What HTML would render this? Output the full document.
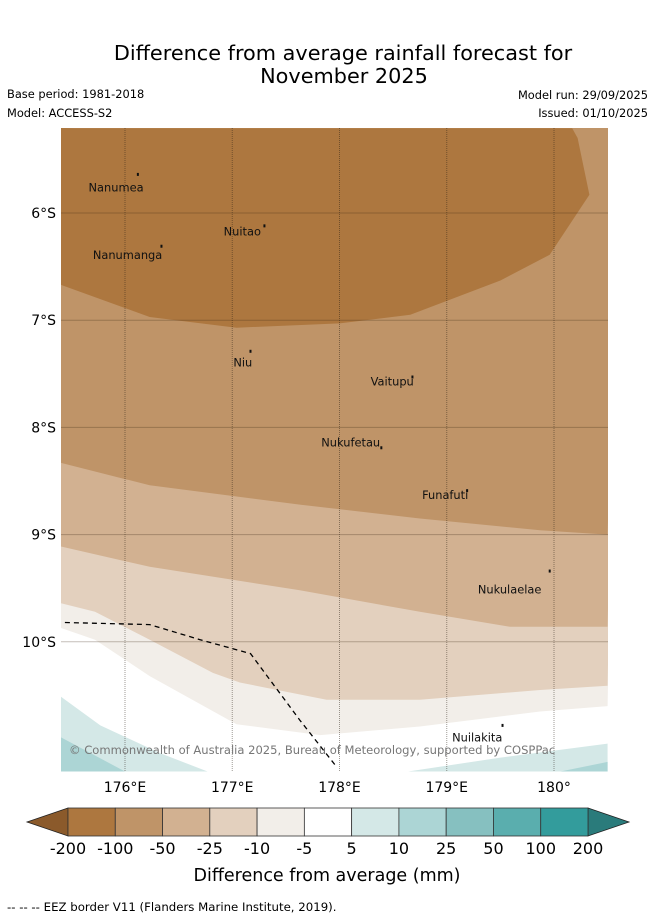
<!DOCTYPE html>
<html><head><meta charset="utf-8"><style>
html,body{margin:0;padding:0;background:#fff;width:655px;height:919px;overflow:hidden}
svg text{font-family:"DejaVu Sans","Liberation Sans",sans-serif}
</style></head><body>
<svg id="chart" width="655" height="919" viewBox="0 0 655 919" xmlns="http://www.w3.org/2000/svg">
<text x="343" y="60" font-size="20.8" text-anchor="middle">Difference from average rainfall forecast for</text>
<text x="344" y="83" font-size="20.8" text-anchor="middle">November 2025</text>
<text x="7" y="98" font-size="11.4">Base period: 1981-2018</text>
<text x="7" y="117" font-size="11.4">Model: ACCESS-S2</text>
<text x="648" y="99" font-size="11.4" text-anchor="end">Model run: 29/09/2025</text>
<text x="648" y="117" font-size="11.4" text-anchor="end">Issued: 01/10/2025</text>
<defs><clipPath id="mapclip"><rect x="61" y="128" width="547" height="644"/></clipPath></defs>
<g id="map" clip-path="url(#mapclip)"></g>
<g id="overlay"></g>
<g id="colorbar"></g>
<text x="327" y="881" font-size="17.5" text-anchor="middle">Difference from average (mm)</text>
<text x="7" y="911" font-size="11.75">--  --  -- EEZ border V11 (Flanders Marine Institute, 2019).</text>
</svg>
<script>
// axis extents
const lonTicks = [176, 177, 178, 179, 180];
const lonTickLabels = ["176°E", "177°E", "178°E", "179°E", "180°"];
const latTicks = [6, 7, 8, 9, 10];
const latTickLabels = ["6°S", "7°S", "8°S", "9°S", "10°S"];
// contour boundaries (lon, lat °S)
const b1Lon = [175.40, 175.72, 176.23, 177.04, 177.82, 178.75, 179.87, 180.50];
const b1Lat = [9.87, 9.98, 10.32, 10.77, 10.87, 10.79, 10.65, 10.60];
const b2Lon = [175.40, 175.72, 176.23, 176.82, 177.07, 177.88, 178.75, 179.87, 180.50];
const b2Lat = [9.64, 9.72, 9.98, 10.29, 10.38, 10.54, 10.54, 10.45, 10.41];
const b3Lon = [175.40, 176.23, 177.63, 178.75, 179.59, 180.50];
const b3Lat = [9.11, 9.30, 9.52, 9.72, 9.86, 9.86];
const b4Lon = [175.40, 176.23, 177.63, 178.75, 179.87, 180.50];
const b4Lat = [8.33, 8.54, 8.72, 8.85, 8.96, 9.00];
const b5Lon = [175.40, 180.17, 180.22, 180.33, 179.96, 179.50, 178.66, 178.00, 177.04, 176.23, 175.40];
const b5Lat = [5.21, 5.21, 5.30, 5.83, 6.39, 6.63, 6.95, 7.03, 7.07, 6.97, 6.67];
const t1Lon = [175.40, 175.77, 176.33, 176.77, 175.40];
const t1Lat = [10.51, 10.78, 11.04, 11.21, 11.21];
const t2Lon = [175.40, 176.00, 175.40];
const t2Lat = [10.89, 11.21, 11.21];
const t3Lon = [178.64, 179.50, 180.50, 180.50];
const t3Lat = [11.21, 11.08, 10.95, 11.21];
const t4Lon = [180.06, 180.50, 180.50];
const t4Lat = [11.21, 11.12, 11.21];
const eezLon = [175.44, 176.23, 176.70, 177.17, 177.63, 177.96];
const eezLat = [9.82, 9.84, 9.98, 10.11, 10.73, 11.15];
const islandNames = ["Nanumea","Nuitao","Nanumanga","Niu","Vaitupu","Nukufetau","Funafuti","Nukulaelae","Nuilakita"];
const islandLon = [176.12, 177.30, 176.34, 177.17, 178.68, 178.39, 179.19, 179.96, 179.52];
const islandLat = [5.64, 6.12, 6.31, 7.29, 7.53, 8.19, 8.59, 9.34, 10.78];
const labelLon = [175.66, 176.92, 175.70, 177.01, 178.29, 177.83, 178.77, 179.29, 179.05];
const labelLat = [5.80, 6.21, 6.43, 7.43, 7.61, 8.18, 8.67, 9.55, 10.93];
const cbLabels = ["-200","-100","-50","-25","-10","-5","5","10","25","50","100","200"];
const cbColors = ["#ad773f","#bf9468","#d2b191","#e3d0be","#f2eee9","#ffffff","#d4e8e7","#acd5d5","#86c0c0","#5aaeae","#339c9c"];

const x = lon => 125 + (lon - 176) * 107.25;
const y = lat => 213 + (lat - 6) * 107.2;
const NS = "http://www.w3.org/2000/svg";
function mk(tag, attrs, parent){const e=document.createElementNS(NS,tag);for(const k in attrs)e.setAttribute(k,attrs[k]);parent.appendChild(e);return e;}
const map = document.getElementById('map');
const ov = document.getElementById('overlay');
const pts = (lo, la) => lo.map((v,i)=>x(v).toFixed(1)+','+y(la[i]).toFixed(1)).join(' ');
const topClose = (lo, la) => pts(lo,la) + ' ' + x(180.6)+','+y(5.1)+' '+x(175.3)+','+y(5.1);

let r = mk('rect',{x:61,y:128,width:547,height:644,fill:'#ffffff'},map);


const layers = [[b1Lon,b1Lat,'#f2eee9','band-minus10-minus5'],[b2Lon,b2Lat,'#e3d0be','band-minus25-minus10'],[b3Lon,b3Lat,'#d2b191','band-minus50-minus25'],[b4Lon,b4Lat,'#bf9468','band-minus100-minus50']];
layers.forEach(l=>{
  const p = mk('polygon',{points:topClose(l[0],l[1]),fill:l[2]},map);
  
  
});
let p5 = mk('polygon',{points:pts(b5Lon,b5Lat)+' '+x(175.3)+','+y(5.1)+' '+x(180.6)+','+y(5.1),fill:'#ad773f'},map);


[[t1Lon,t1Lat,'#d4e8e7','band-5-10-west'],[t2Lon,t2Lat,'#acd5d5','band-10-25-west'],[t3Lon,t3Lat,'#d4e8e7','band-5-10-east'],[t4Lon,t4Lat,'#acd5d5','band-10-25-east']].forEach(l=>{
  const p = mk('polygon',{points:pts(l[0],l[1]),fill:l[2]},map);
  
  
});
// gridlines
lonTicks.forEach((v,i)=>{
  const g = mk('line',{x1:x(v),x2:x(v),y1:128,y2:772,stroke:'rgba(40,30,20,0.45)','stroke-width':1,'stroke-dasharray':'1,1'},map);
  
  
  const t = mk('text',{x:x(v),y:792,'font-size':14,'text-anchor':'middle'},ov);
  t.textContent = lonTickLabels[i];
  
  
});
latTicks.forEach((v,i)=>{
  const g = mk('line',{x1:61,x2:608,y1:y(v),y2:y(v),stroke:'rgba(60,40,20,0.3)','stroke-width':1},map);
  
  
  const t = mk('text',{x:56,y:y(v)+5,'font-size':14,'text-anchor':'end'},ov);
  t.textContent = latTickLabels[i];
  
  
});
// EEZ
let eez = mk('polyline',{points:pts(eezLon,eezLat),fill:'none',stroke:'#000','stroke-width':1.3,'stroke-dasharray':'5,4'},map);


// islands
islandNames.forEach((n,i)=>{
  const m = mk('rect',{x:x(islandLon[i])-1,y:y(islandLat[i])-1.5,width:2,height:3,fill:'#111'},map);
  
  
  const t = mk('text',{x:x(labelLon[i]),y:y(labelLat[i]),'font-size':11.4,fill:'#111'},map);
  t.textContent = n;
  
  
});
let cp = mk('text',{x:69,y:754,'font-size':11.55,fill:'#777'},map);
cp.textContent = '© Commonwealth of Australia 2025, Bureau of Meteorology, supported by COSPPac';


// colorbar
const cb = document.getElementById('colorbar');
const cx0 = 68, cw = (588-68)/cbColors.length, cy0 = 808, ch = 28;
let la = mk('polygon',{points:`${cx0},${cy0} 27,${cy0+ch/2} ${cx0},${cy0+ch}`,fill:'#8b5a2b',stroke:'#222','stroke-width':0.8},cb);


let ra = mk('polygon',{points:`588,${cy0} 629,${cy0+ch/2} 588,${cy0+ch}`,fill:'#2a7b7b',stroke:'#222','stroke-width':0.8},cb);


cbColors.forEach((c,i)=>{
  const b = mk('rect',{x:cx0+i*cw,y:cy0,width:cw,height:ch,fill:c,stroke:'#333','stroke-width':0.8},cb);
  
  
});
cbLabels.forEach((l,i)=>{
  const t = mk('text',{x:cx0+i*cw,y:854,'font-size':16,'text-anchor':'middle'},cb);
  t.textContent = l;
  
  
});
</script>
</body></html>
